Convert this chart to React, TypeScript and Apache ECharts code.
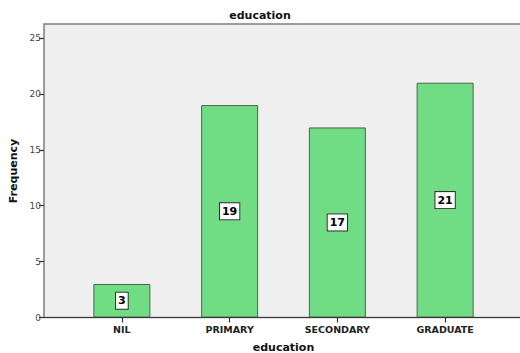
import React, { useEffect, useRef } from "react";
import * as echarts from "echarts";

// Education level frequencies
const categories = ["NIL", "PRIMARY", "SECONDARY", "GRADUATE"];
const frequencies = [3, 19, 17, 21];
const yTicks = [0, 5, 10, 15, 20, 25];

const FONT = "'DejaVu Sans', Verdana, sans-serif";

export default function App() {
  const ref = useRef<HTMLDivElement>(null);

  useEffect(() => {
    if (!ref.current) return;
    const chart = echarts.init(ref.current, null, { renderer: "svg" });
    const yMax = yTicks[yTicks.length - 1];
    chart.setOption({
      animation: false,
      backgroundColor: "#ffffff",
      title: {
        text: "education",
        left: "center",
        top: 5,
        textStyle: { fontFamily: FONT, fontSize: 11, fontWeight: "bold", color: "#111" },
      },
      grid: { left: 68, right: 21, top: 38, bottom: 35.5, outerBoundsMode: "none", containLabel: false },
      graphic: [
        {
          type: "rect",
          z: -10,
          silent: true,
          shape: { x: 44, y: 24, width: 490, height: 293.5 },
          style: { fill: "#efefef", stroke: "#7f7f7f", lineWidth: 1.5 },
        },
        {
          type: "line",
          z: 10,
          silent: true,
          shape: { x1: 44, y1: 317.5, x2: 520, y2: 317.5 },
          style: { stroke: "#3a3a3a", lineWidth: 1.2 },
        },
        {
          type: "text",
          x: 13,
          y: 171,
          rotation: Math.PI / 2,
          style: {
            text: "Frequency",
            font: `bold 11px ${FONT}`,
            fill: "#111",
            align: "center",
            verticalAlign: "middle",
          },
        },
      ],
      xAxis: {
        type: "category",
        data: categories,
        name: "education",
        nameLocation: "middle",
        nameGap: 24,
        nameTextStyle: { fontFamily: FONT, fontSize: 11, fontWeight: "bold", color: "#111" },
        axisLine: { show: false },
        axisTick: { show: true, alignWithLabel: true, length: 5, lineStyle: { color: "#333", width: 1.2 } },
        axisLabel: { fontFamily: FONT, fontSize: 9.5, fontWeight: "bold", color: "#222", margin: 7 },
      },
      yAxis: {
        type: "value",
        min: 0,
        max: yMax,
        interval: 5,
        offset: 24,
        axisLine: { show: false },
        axisTick: { show: true, length: 5, lineStyle: { color: "#333", width: 1.2 } },
        axisLabel: { fontFamily: FONT, fontSize: 9, color: "#444", margin: 3 },
        splitLine: { show: false },
      },
      series: [
        {
          type: "bar",
          data: frequencies,
          barWidth: 57,
          itemStyle: { color: "#70dd84", borderColor: "#4a6550", borderWidth: 1 },
          label: {
            show: true,
            position: "inside",
            fontFamily: FONT,
            fontSize: 11,
            fontWeight: "bold",
            color: "#000",
            backgroundColor: "#ffffff",
            borderColor: "#333",
            borderWidth: 1,
            padding: [3, 2, 2, 2],
          },
        },
      ],
    });
    return () => chart.dispose();
  }, []);

  return (
    <div
      ref={ref}
      style={{ position: "fixed", left: 0, top: 0, width: 520, height: 353 }}
    />
  );
}
